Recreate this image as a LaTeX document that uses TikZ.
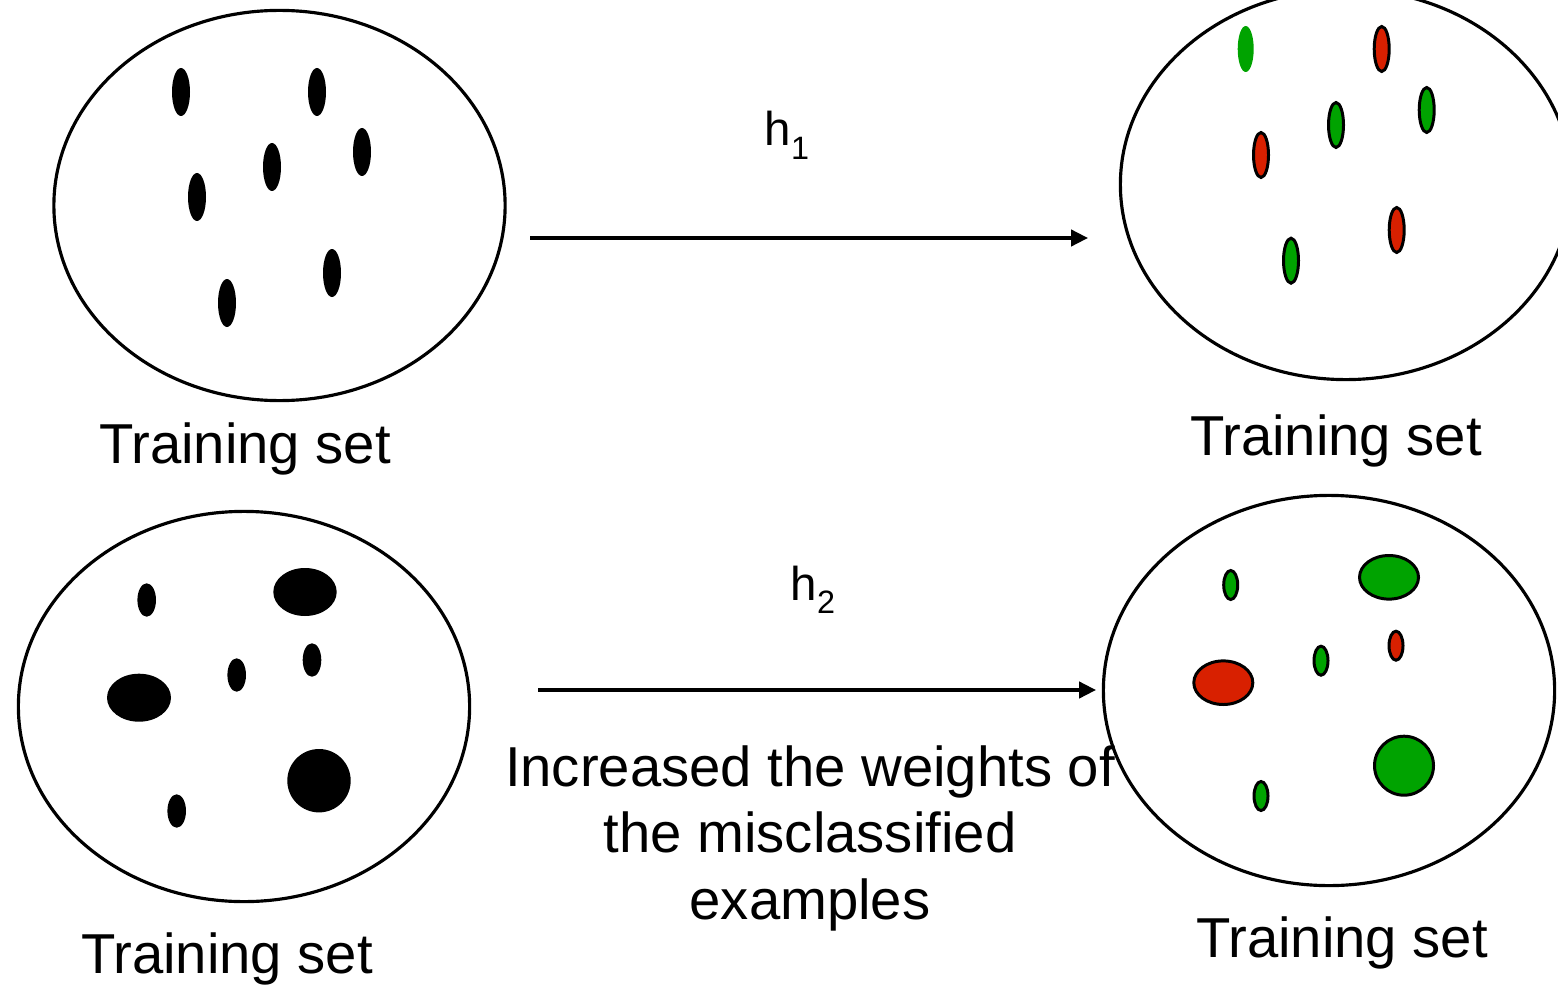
\documentclass[tikz,border=0pt]{standalone}
\usepackage{fontspec}
\setmainfont{Liberation Sans}
\usetikzlibrary{arrows.meta,shapes.geometric}
\definecolor{dotgreen}{RGB}{0,163,0}
\definecolor{dotred}{RGB}{216,32,0}
\tikzset{
  setring/.style={ellipse, draw, line width=0.9pt, minimum width=4.51cm,
    minimum height=3.90cm, inner sep=0pt},
  setlabel/.style={anchor=base, inner sep=0pt, font=\fontsize{16}{19}\selectfont},
  hyp/.style={anchor=base west, inner sep=0pt, font=\fontsize{13.5}{16}\selectfont},
  flow/.style={line width=1pt, -{Triangle[length=4.8pt,width=4.6pt]}},
  outdot/.style={draw=black, line width=0.85pt},
}
\newcommand{\hsub}[1]{h\raisebox{-3.9pt}{\fontsize{9.2}{10}\selectfont #1}}
\begin{document}
\begin{tikzpicture}[x=0.01cm, y=-0.01cm]
  \useasboundingbox (0,0) rectangle (1558,985);
  \clip (0,0) rectangle (1558,985);

  % the four training sets
  \node[setring] (setA) at (279.5,205.5) {};
  \node[setring] (setB) at (1346,184.5) {};
  \node[setring] (setC) at (244,706.5) {};
  \node[setring] (setD) at (1329,690.5) {};

  % labels under the sets
  \node[setlabel] (labA) at (245,463) {Training set};
  \node[setlabel] (labB) at (1336,455) {Training set};
  \node[setlabel] (labC) at (227,973) {Training set};
  \node[setlabel] (labD) at (1342,957) {Training set};

  % hypotheses
  \node[hyp] (h1) at (764,146) {\hsub{1}};
  \node[hyp] (h2) at (790,600) {\hsub{2}};

  % arrows between the sets
  \coordinate (a1s) at (530,238);
  \coordinate (a1e) at (1088,238);
  \coordinate (a2s) at (538,690);
  \coordinate (a2e) at (1096,690);
  \draw[flow] (a1s) -- (a1e);
  \draw[flow] (a2s) -- (a2e);

  % explanation under the second arrow (base = last line's baseline)
  \node[anchor=base, inner sep=0pt, align=center,
        font=\fontsize{16}{18.8}\selectfont] (note) at (810,919)
    {Increased the weights of\\the misclassified\\examples};

  % set A: uniform weights
  \foreach \p in {(181,92),(317,92),(362,152),(272,167),(197,197),(332,273),(227,303)}
    \fill \p ellipse [x radius=9, y radius=24];

  % set B: classified by h1
  \fill[dotgreen] (1245.7,49) ellipse [x radius=8, y radius=23];
  \filldraw[outdot, fill=dotred]   (1381.7,49)  ellipse [x radius=7.5, y radius=22.5];
  \filldraw[outdot, fill=dotgreen] (1426.7,110) ellipse [x radius=7.5, y radius=22.5];
  \filldraw[outdot, fill=dotgreen] (1336,125)   ellipse [x radius=7.5, y radius=22.5];
  \filldraw[outdot, fill=dotred]   (1261,155)   ellipse [x radius=7.5, y radius=22.5];
  \filldraw[outdot, fill=dotred]   (1396.7,230) ellipse [x radius=7.5, y radius=22.5];
  \filldraw[outdot, fill=dotgreen] (1291,260.7) ellipse [x radius=7.5, y radius=22.5];

  % set C: reweighted examples
  \foreach \p in {(146.7,600),(312,660),(236.7,675),(176.7,811)}
    \fill \p ellipse [x radius=9.3, y radius=16.7];
  \fill (305,592) ellipse [x radius=31.7, y radius=24];
  \fill (139,697.7) ellipse [x radius=32, y radius=24];
  \fill (319,780.7) circle [radius=31.7];

  % set D: classified by h2
  \filldraw[outdot, fill=dotgreen] (1230.7,585)   ellipse [x radius=7, y radius=14.5];
  \filldraw[outdot, fill=dotgreen] (1389,577.3)   ellipse [x radius=29.5, y radius=21.8];
  \filldraw[outdot, fill=dotred]   (1396,645.7)   ellipse [x radius=7, y radius=14.5];
  \filldraw[outdot, fill=dotgreen] (1321,660.7)   ellipse [x radius=7, y radius=14.5];
  \filldraw[outdot, fill=dotred]   (1223.3,682.7) ellipse [x radius=29.5, y radius=21.8];
  \filldraw[outdot, fill=dotgreen] (1404,765.7)   circle [radius=29.5];
  \filldraw[outdot, fill=dotgreen] (1261,796)     ellipse [x radius=7, y radius=14.5];
\end{tikzpicture}
\end{document}
